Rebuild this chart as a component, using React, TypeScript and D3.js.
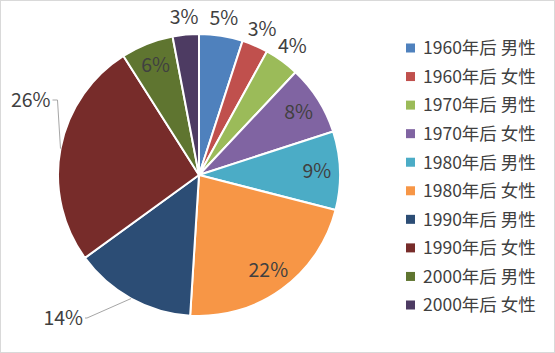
import React, { useRef, useEffect } from "react";
import * as d3 from "d3";

const categories = [
  "1960年后 男性",
  "1960年后 女性",
  "1970年后 男性",
  "1970年后 女性",
  "1980年后 男性",
  "1980年后 女性",
  "1990年后 男性",
  "1990年后 女性",
  "2000年后 男性",
  "2000年后 女性",
];
const values = [5, 3, 4, 8, 9, 22, 14, 26, 6, 3];
const colors = [
  "#4f81bd",
  "#c0504d",
  "#9bbb59",
  "#8064a2",
  "#4bacc6",
  "#f79646",
  "#2c4d75",
  "#772c2a",
  "#5f7530",
  "#4d3b62",
];
// where each data label sits: inside the slice, just outside, or pulled away with a leader line
const labelModes = ["out", "out", "out", "in", "in", "in", "leader", "leader", "in", "out"];

const width = 555;
const height = 353;
const font = "'Noto Sans CJK SC', 'Noto Sans', sans-serif";

export default function App() {
  const ref = useRef<SVGSVGElement>(null);

  useEffect(() => {
    const svg = d3.select(ref.current);
    svg.selectAll("*").remove();

    svg
      .append("rect")
      .attr("x", 0.5)
      .attr("y", 0.5)
      .attr("width", width - 1)
      .attr("height", height - 1)
      .attr("fill", "#fff")
      .attr("stroke", "#d9d9d9");

    const cx = 199;
    const cy = 175;
    const r = 141;

    const pie = d3
      .pie<number>()
      .sort(null)
      .value((d) => d);
    const arcs = pie(values);

    const arc = d3.arc<d3.PieArcDatum<number>>().innerRadius(0).outerRadius(r);
    const inArc = d3.arc<d3.PieArcDatum<number>>().innerRadius(118).outerRadius(118);
    const outArc = d3.arc<d3.PieArcDatum<number>>().innerRadius(159).outerRadius(159);
    const edgeArc = d3.arc<d3.PieArcDatum<number>>().innerRadius(r).outerRadius(r);

    const g = svg.append("g").attr("transform", `translate(${cx},${cy})`);

    g.selectAll("path.slice")
      .data(arcs)
      .join("path")
      .attr("class", "slice")
      .attr("d", arc)
      .attr("fill", (_, i) => colors[i])
      .attr("stroke", "#fff")
      .attr("stroke-width", 2);

    const fmt = (v: number) => `${v}%`;

    arcs.forEach((a, i) => {
      const mode = labelModes[i];
      if (mode === "in" || mode === "out") {
        const [x, y] = (mode === "in" ? inArc : outArc).centroid(a);
        g.append("text")
          .attr("x", x)
          .attr("y", y)
          .attr("text-anchor", "middle")
          .attr("dy", "0.35em")
          .attr("font-family", font)
          .attr("font-size", 19.5)
          .attr("fill", "#404040")
          .text(fmt(values[i]));
      } else {
        const [ex, ey] = edgeArc.centroid(a);
        // elbow + text position of the pulled-out labels, relative to centre
        const left = ey < 0;
        const elbow: [number, number] = left ? [ex - 3, -75] : [-112, 143];
        const end: [number, number] = left ? [elbow[0] - 5, elbow[1]] : [elbow[0] - 2, elbow[1]];
        g.append("polyline")
          .attr("points", [[ex, ey], elbow, end].map((p) => p.join(",")).join(" "))
          .attr("fill", "none")
          .attr("stroke", "#a6a6a6")
          .attr("stroke-width", 1);
        g.append("text")
          .attr("x", end[0] - 2)
          .attr("y", end[1])
          .attr("text-anchor", "end")
          .attr("dy", "0.35em")
          .attr("font-family", font)
          .attr("font-size", 19.5)
          .attr("fill", "#404040")
          .text(fmt(values[i]));
      }
    });

    const legendY = d3
      .scalePoint<string>()
      .domain(categories)
      .range([48, 305]);

    const legend = svg
      .append("g")
      .selectAll("g")
      .data(categories)
      .join("g")
      .attr("transform", (d) => `translate(406,${legendY(d)})`);

    legend
      .append("rect")
      .attr("x", 0)
      .attr("y", -4.5)
      .attr("width", 9)
      .attr("height", 9)
      .attr("fill", (_, i) => colors[i]);

    legend
      .append("text")
      .attr("x", 17)
      .attr("dy", "0.36em")
      .attr("font-family", font)
      .attr("font-size", 17.5)
      .attr("fill", "#404040")
      .text((d) => d);
  }, []);

  return (
    <svg
      ref={ref}
      width={width}
      height={height}
      style={{ position: "absolute", left: 0, top: 0, display: "block" }}
    ></svg>
  );
}
